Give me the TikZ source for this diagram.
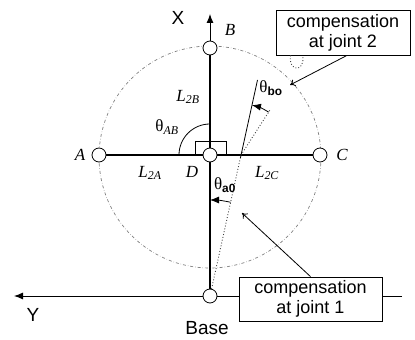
\documentclass[tikz,border=0pt]{standalone}
\usepackage{fontspec}
\setmainfont{Liberation Serif}
\setsansfont{Liberation Sans}
\usetikzlibrary{shapes,arrows.meta,positioning,backgrounds,calc}

\begin{document}
\begin{tikzpicture}[
    x=1pt, y=1pt,
    joint/.style={circle, draw=black, fill=white, line width=0.8pt, minimum size=14pt, inner sep=0pt},
    link/.style={line width=2.8pt, black},
    thin/.style={line width=0.8pt, black},
    axis/.style={-{Latex[length=9pt, width=7pt]}, line width=0.9pt, black},
    angarrow/.style={-{Latex[length=9pt, width=7pt]}, line width=0.8pt, black},
    callout/.style={-{To[length=5pt, width=7pt]}, line width=0.8pt, black},
    rot/.style={dotted, line width=0.9pt, black!75},
    note/.style={rectangle, draw=black, fill=white, line width=0.8pt, align=center, font=\fontsize{18}{20}\selectfont\sffamily},
    lbl/.style={font=\fontsize{17}{19}\selectfont\itshape},
    ang/.style={font=\fontsize{17}{19}\selectfont},
    axlbl/.style={font=\fontsize{19}{21}\selectfont\sffamily},
]
\useasboundingbox (0,0) rectangle (415,340);
% joints
\node[joint] (D) at (210,185) {};
\node[joint] (B) at (210,292) {};
\node[joint] (A) at (99,185) {};
\node[joint] (C) at (320,185) {};
\node[joint] (Base) at (210,44) {};
% text boxes
\node[note, minimum width=134pt, minimum height=45pt] (note2) at (343,307.5) {compensation\\at joint 2};
\node[note, minimum width=143pt, minimum height=44pt] (note1) at (310.5,41) {compensation\\at joint 1};
% labels
\node[lbl] (labB) at (230,310) {B};
\node[lbl] (labA) at (80,185) {A};
\node[lbl] (labC) at (342,185) {C};
\node[lbl] (labD) at (192,168) {D};
\node[lbl] (l2b) at (188,243) {L\textsubscript{2B}};
\node[lbl] (l2a) at (150,167) {L\textsubscript{2A}};
\node[lbl] (l2c) at (267,167) {L\textsubscript{2C}};
\node[ang] (tAB) at (167,213) {θ\textsubscript{\itshape AB}};
\node[ang] (tbo) at (271,252) {θ\textsubscript{\sffamily\bfseries bo}};
\node[ang] (ta0) at (225,155) {θ\textsubscript{\sffamily\bfseries a0}};
\node[axlbl] (labX) at (178,322) {X};
\node[axlbl] (labY) at (33,25) {Y};
\node[axlbl] (labBase) at (207,12) {Base};
% points
\coordinate (xtip) at (210,326);
\coordinate (ytip) at (14,44);
\coordinate (yend) at (402,44);
\coordinate (Dr) at (241,185);
\coordinate (Dlow) at (240.4,182);
\coordinate (Br) at (270,230);
\coordinate (ref) at (257.5,260);
\coordinate (c2) at (290,255);
\coordinate (c1) at (242,127);

\begin{scope}[on background layer]
\draw[gray, dash dot, line width=0.7pt] (210,183) circle[radius=111];
\draw[axis] (yend) -- (ytip);
\draw[thin] (195,185) rectangle (226,199);
\draw[thin] ($(D.center)+(90:31)$) arc[start angle=90, end angle=180, radius=31];
\draw[link] (B) -- (D);
\draw[link] (D) -- (Base);
\draw[link] (A) -- (D);
\draw[link] (D) -- (C);
\draw[rot] (Base) -- (Dr);
\draw[rot] (Dr) -- (Br);
\draw[thin] (Dlow) -- (ref);
\end{scope}
\draw[axis] (B) -- (xtip);
\draw[angarrow] ($(Dr)+(57.2:51)$) arc[start angle=57.2, end angle=77.6, radius=51];
\draw[angarrow] ($(Base.center)+(77.6:96)$) arc[start angle=77.6, end angle=90, radius=96];
\draw[rot] ($(note2.south west)+(15,0)$) .. controls +(-3,-16) and +(3,-18) .. ($(note2.south west)+(27,0)$);
\draw[callout] ($(note2.south)+(4,0)$) -- (c2);
\draw[callout] (note1.north) -- (c1);
\end{tikzpicture}
\end{document}
